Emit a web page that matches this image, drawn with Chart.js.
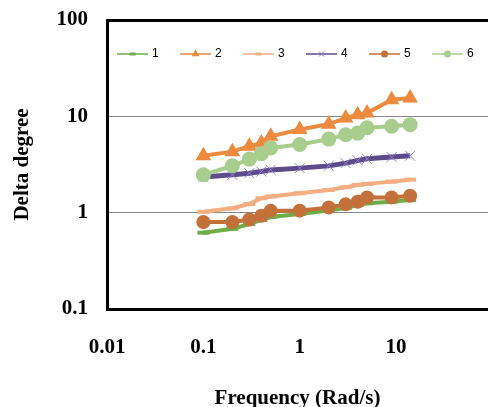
<!DOCTYPE html>
<html>
<head>
<meta charset="UTF-8">
<title>Delta degree vs Frequency</title>
<script src="https://cdn.jsdelivr.net/npm/chart.js"></script>
<style>
    html, body { margin: 0; padding: 0; background: #fff; overflow: hidden; }
</style>
</head>
<body>
<canvas id="deltaChart" width="488" height="407"></canvas>
<script>
    // frequencies (rad/s), shared by every series
    const freq = [0.1, 0.2, 0.3, 0.4, 0.5, 1, 2, 3, 4, 5, 9, 14];

    // delta degree for each series
    const s1 = [0.62, 0.68, 0.76, 0.84, 0.90, 0.97, 1.05, 1.12, 1.20, 1.25, 1.30, 1.35];
    const s2 = [3.9, 4.3, 4.9, 5.3, 6.2, 7.3, 8.3, 9.6, 10.4, 10.8, 14.9, 15.5];
    const s3 = [1.02, 1.11, 1.23, 1.41, 1.47, 1.59, 1.72, 1.84, 1.94, 1.99, 2.10, 2.20];
    const s4 = [2.35, 2.47, 2.57, 2.67, 2.78, 2.90, 3.06, 3.27, 3.48, 3.62, 3.78, 3.90];
    const s5 = [0.80, 0.80, 0.85, 0.93, 1.05, 1.05, 1.13, 1.22, 1.30, 1.44, 1.44, 1.50];
    const s6 = [2.47, 3.07, 3.60, 4.10, 4.70, 5.10, 5.80, 6.45, 6.70, 7.60, 7.90, 8.20];

    const seriesNames = ['1', '2', '3', '4', '5', '6'];
    const xTicks = [0.01, 0.1, 1, 10];
    const yTicks = [0.1, 1, 10, 100];

    const serif = '"Liberation Serif", "Times New Roman", serif';

    function points(values) {
        return freq.map((f, i) => ({ x: f, y: values[i] }));
    }

    // excel draws series 1 first, so it gets the highest order
    const datasets = [
        { label: seriesNames[0], data: points(s1), borderColor: '#70AD47', borderWidth: 4,
          pointStyle: 'line', pointRadius: 6, pointBorderWidth: 4, pointBorderColor: '#70AD47', order: 6 },
        { label: seriesNames[1], data: points(s2), borderColor: '#EC8A3F', borderWidth: 4,
          pointStyle: 'triangle', pointRadius: 9, pointBorderWidth: 0, pointBackgroundColor: '#EC8A3F', order: 5 },
        { label: seriesNames[2], data: points(s3), borderColor: '#F5AE82', borderWidth: 4,
          pointStyle: 'line', pointRadius: 6, pointBorderWidth: 4, pointBorderColor: '#F5AE82', order: 4 },
        { label: seriesNames[3], data: points(s4), borderColor: '#5E4B8B', borderWidth: 5,
          pointStyle: 'crossRot', pointRadius: 7, pointBorderWidth: 1, pointBorderColor: '#8F84C2', order: 3 },
        { label: seriesNames[4], data: points(s5), borderColor: '#C4703A', borderWidth: 4,
          pointStyle: 'circle', pointRadius: 7, pointBorderWidth: 0, pointBackgroundColor: '#C4703A', order: 2 },
        { label: seriesNames[5], data: points(s6), borderColor: '#A8CD8C', borderWidth: 4,
          pointStyle: 'circle', pointRadius: 7.5, pointBorderWidth: 0, pointBackgroundColor: '#A8CD8C', order: 1 }
    ];

    // small legend drawn inside the plot, like the excel one
    const insideLegend = {
        id: 'insideLegend',
        afterDatasetsDraw(chart) {
            const ctx = chart.ctx;
            const y = 54;
            chart.data.datasets.forEach((d, i) => {
                const x0 = 117 + i * 63;
                ctx.save();
                ctx.strokeStyle = d.borderColor;
                ctx.lineWidth = 1.5;
                ctx.beginPath();
                ctx.moveTo(x0, y);
                ctx.lineTo(x0 + 31, y);
                ctx.stroke();

                const style = d.pointStyle;
                ctx.fillStyle = d.pointBackgroundColor || d.borderColor;
                ctx.strokeStyle = d.pointBorderColor || d.borderColor;
                let r = 3.5, bw = 0;
                if (style === 'line') { r = 3; bw = 3; ctx.lineWidth = 3; }
                if (style === 'triangle') { r = 4.5; }
                if (style === 'crossRot') { r = 3.5; bw = 1; ctx.lineWidth = 1; }
                Chart.helpers.drawPoint(ctx, { pointStyle: style, radius: r, borderWidth: bw, rotation: 0 }, x0 + 15.5, y);

                ctx.fillStyle = '#000';
                ctx.font = '12px "Liberation Sans Narrow", "Arial Narrow", "Liberation Sans", sans-serif';
                ctx.textBaseline = 'middle';
                ctx.textAlign = 'left';
                ctx.fillText(d.label, x0 + 35, y);
                ctx.restore();
            });
        }
    };

    // keep the plot box fixed: no extra room for half labels at the ends
    function noEdgePadding(s) {
        s.paddingTop = 0;
        s.paddingBottom = 0;
        s.paddingLeft = 0;
        s.paddingRight = 0;
    }

    const chart = new Chart(document.getElementById('deltaChart'), {
        type: 'line',
        data: { datasets: datasets },
        options: {
            responsive: false,
            animation: false,
            layout: { autoPadding: false, padding: { top: 20, left: 0, right: 0, bottom: 0 } },
            elements: { line: { tension: 0, fill: false } },
            plugins: { legend: { display: false }, tooltip: { enabled: false } },
            scales: {
                x: {
                    type: 'logarithmic',
                    bounds: 'data',
                    min: 0.01,
                    max: 90,
                    afterBuildTicks: s => { s.ticks = xTicks.map(v => ({ value: v })); },
                    afterFit: s => { s.height = 98; noEdgePadding(s); },
                    grid: { display: false },
                    border: { display: true, color: '#000', width: 3 },
                    ticks: {
                        autoSkip: false, maxRotation: 0, padding: 18, color: '#000',
                        font: { family: serif, size: 21, weight: 'bold' },
                        callback: v => String(v)
                    },
                    title: {
                        display: true, text: 'Frequency (Rad/s)', color: '#000',
                        font: { family: serif, size: 21, weight: 'bold', lineHeight: 1 },
                        padding: { top: 0, bottom: -2 }
                    }
                },
                y: {
                    type: 'logarithmic',
                    bounds: 'data',
                    min: 0.1,
                    max: 100,
                    afterBuildTicks: s => { s.ticks = yTicks.map(v => ({ value: v })); },
                    afterFit: s => { s.width = 107; noEdgePadding(s); },
                    grid: {
                        drawTicks: false,
                        color: c => c.tick && c.tick.value === 100 ? '#000' : (c.tick && c.tick.value === 0.1 ? 'rgba(0,0,0,0)' : '#868686'),
                        lineWidth: c => c.tick && c.tick.value === 100 ? 3 : 1
                    },
                    border: { display: true, color: '#000', width: 3 },
                    ticks: {
                        autoSkip: false, padding: 19, color: '#000',
                        font: { family: serif, size: 21, weight: 'bold' },
                        callback: v => String(v)
                    },
                    title: {
                        display: true, text: 'Delta degree', color: '#000',
                        font: { family: serif, size: 21, weight: 'bold', lineHeight: 1 },
                        padding: { top: 12, bottom: 0 }
                    }
                }
            }
        },
        plugins: [insideLegend]
    });
</script>
</body>
</html>
